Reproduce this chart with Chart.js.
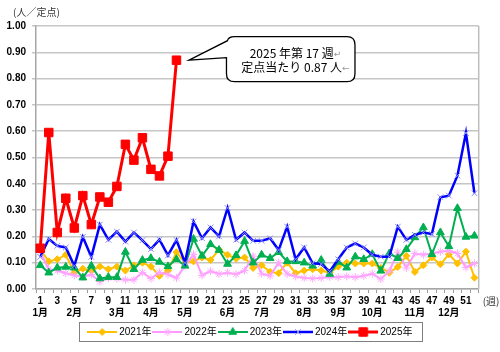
<!DOCTYPE html>
<html><head><meta charset="utf-8">
<script src="https://cdn.jsdelivr.net/npm/chart.js@4/dist/chart.umd.min.js"></script>
<style>html,body{margin:0;padding:0;background:#fff}</style>
</head><body>
<canvas id="c" width="500" height="352" style="width:500px;height:352px;display:block"></canvas>
<script>
const weeks = ['1','2','3','4','5','6','7','8','9','10','11','12','13','14','15','16','17','18','19','20','21','22','23','24','25','26','27','28','29','30','31','32','33','34','35','36','37','38','39','40','41','42','43','44','45','46','47','48','49','50','51','52'];
const monthWeeks = [1,5,10,14,18,23,27,32,36,40,45,49];
const monthNames = ['1月','2月','3月','4月','5月','6月','7月','8月','9月','10月','11月','12月'];
const yTicks = [0,0.1,0.2,0.3,0.4,0.5,0.6,0.7,0.8,0.9,1.0];

const s2021 = [0.15,0.105,0.113,0.13,0.062,0.077,0.068,0.086,0.075,0.085,0.07,0.09,0.1,0.085,0.05,0.07,0.14,0.10,0.105,0.12,0.11,0.15,0.13,0.115,0.12,0.08,0.09,0.065,0.06,0.10,0.06,0.07,0.075,0.07,0.062,0.085,0.1,0.097,0.097,0.097,0.08,0.062,0.084,0.126,0.065,0.09,0.12,0.094,0.132,0.097,0.142,0.043];
const s2022 = [0.14,0.075,0.07,0.06,0.052,0.047,0.055,0.028,0.042,0.039,0.035,0.035,0.063,0.04,0.063,0.055,0.042,0.088,0.132,0.052,0.068,0.057,0.062,0.056,0.07,0.125,0.058,0.05,0.1,0.057,0.048,0.042,0.04,0.042,0.046,0.045,0.048,0.045,0.05,0.058,0.038,0.068,0.14,0.08,0.135,0.13,0.135,0.142,0.145,0.135,0.082,0.097];
const s2023 = [0.09,0.062,0.081,0.084,0.081,0.043,0.088,0.04,0.045,0.045,0.141,0.075,0.11,0.117,0.103,0.086,0.113,0.088,0.19,0.126,0.17,0.148,0.095,0.128,0.182,0.1,0.13,0.117,0.14,0.105,0.105,0.1,0.088,0.11,0.057,0.103,0.081,0.123,0.113,0.132,0.069,0.135,0.117,0.151,0.196,0.234,0.132,0.215,0.162,0.307,0.198,0.202];
const s2024 = [0.122,0.19,0.164,0.158,0.088,0.198,0.122,0.245,0.187,0.218,0.18,0.215,0.185,0.152,0.188,0.128,0.186,0.10,0.257,0.193,0.234,0.2,0.308,0.187,0.215,0.183,0.183,0.193,0.148,0.237,0.113,0.158,0.098,0.095,0.067,0.113,0.158,0.173,0.158,0.13,0.123,0.123,0.237,0.187,0.206,0.215,0.209,0.349,0.355,0.431,0.593,0.364];
const s2025 = [0.155,0.595,0.215,0.345,0.232,0.355,0.245,0.35,0.33,0.39,0.55,0.49,0.575,0.455,0.43,0.505,0.87];

const monthLabels = weeks.map((w, i) => { const k = monthWeeks.indexOf(i + 1); return k >= 0 ? monthNames[k] : ''; });

const FONT = "'Liberation Sans', 'Noto Sans CJK JP', sans-serif";
const JFONT = "'Noto Sans CJK JP', 'Liberation Sans', sans-serif";

const datasets = [
  {label:'2021年', data:s2021, borderColor:'#FFC000', backgroundColor:'#FFC000', pointBackgroundColor:'#FFC000', pointBorderColor:'#FFC000', borderWidth:2, pointStyle:'rectRot', pointRadius:3.5, order:5},
  {label:'2022年', data:s2022, borderColor:'#FF99FF', backgroundColor:'#FF99FF', pointBackgroundColor:'#FFA8FF', pointBorderColor:'#FFA8FF', borderWidth:2, pointStyle:'star', pointRadius:4, order:4},
  {label:'2023年', data:s2023, borderColor:'#00B050', backgroundColor:'#00B050', pointBackgroundColor:'#00B050', pointBorderColor:'#00B050', borderWidth:2, pointStyle:'triangle', pointRadius:4.5, order:3},
  {label:'2024年', data:s2024, borderColor:'#0000FF', backgroundColor:'#0000FF', pointBackgroundColor:'#8C8CFF', pointBorderColor:'#8C8CFF', borderWidth:2.5, pointStyle:'crossRot', pointRadius:4, order:2},
  {label:'2025年', data:s2025, borderColor:'#FF0000', backgroundColor:'#FF0000', pointBackgroundColor:'#FF0000', pointBorderColor:'#FF0000', borderWidth:3, pointStyle:'rect', pointRadius:6, order:1}
];
datasets.forEach(d => { d.tension = 0; d.pointBorderWidth = 1; d.pointHoverRadius = d.pointRadius; d.fill = false; });

function legendImg(ds){
  const cv = document.createElement('canvas'); cv.width = 30; cv.height = 12;
  const g = cv.getContext('2d');
  g.strokeStyle = ds.borderColor; g.lineWidth = ds.borderWidth;
  g.beginPath(); g.moveTo(0, 6); g.lineTo(30, 6); g.stroke();
  g.fillStyle = ds.pointBackgroundColor; g.strokeStyle = ds.pointBorderColor; g.lineWidth = 1;
  Chart.helpers.drawPoint(g, {pointStyle: ds.pointStyle, radius: ds.pointRadius, borderWidth: 1, rotation: 0}, 15, 6);
  return cv;
}

const decor = {
  id: 'decor',
  afterLayout(chart){
    const lg = chart.legend;
    if (lg && lg.adjustHitBoxes && lg.legendHitBoxes){
      const tops = lg.legendHitBoxes.map(h => h.top);
      lg.left += 12; lg.right += 12; lg.adjustHitBoxes();
      lg.legendHitBoxes.forEach((h, i) => { h.top = tops[i]; });
    }
  },
  afterDraw(chart){
    const ctx = chart.ctx, ca = chart.chartArea;
    ctx.save();
    ctx.strokeStyle = '#bdbdbd'; ctx.lineWidth = 1.5;
    ctx.beginPath(); ctx.moveTo(ca.right, ca.top); ctx.lineTo(ca.right, ca.bottom); ctx.stroke();
    ctx.fillStyle = '#333'; ctx.font = '10px ' + JFONT; ctx.textBaseline = 'middle'; ctx.textAlign = 'left';
    ctx.fillText('(人／定点)', 13, 12);
    const xs = chart.scales.x;
    ctx.fillText('(週)', ca.right + 4, xs.top + 12);
    const lg = chart.legend;
    if (lg && lg.legendHitBoxes && lg.legendHitBoxes.length){
      let l = Infinity, r = -Infinity, t = Infinity, b = -Infinity;
      lg.legendHitBoxes.forEach(h => { l = Math.min(l, h.left); r = Math.max(r, h.left + h.width); t = Math.min(t, h.top); b = Math.max(b, h.top + h.height); });
      ctx.strokeStyle = '#7f7f7f'; ctx.lineWidth = 1;
      ctx.strokeRect(Math.round(l - 11) + 0.5, Math.round(t - 5) + 0.5, Math.round(r - l + 21), Math.round(b - t + 9));
    }
    const ys = chart.scales.y;
    const li = s2025.length - 1;
    const px = xs.getPixelForValue(li), py = ys.getPixelForValue(s2025[li]);
    const tipX = px + 12.5, tipY = py;
    const bx = px + 50, by = py - 23.5, bw = 128.5, bh = 45, rr = 8;
    ctx.beginPath();
    ctx.moveTo(bx + rr, by);
    ctx.lineTo(bx + bw - rr, by); ctx.quadraticCurveTo(bx + bw, by, bx + bw, by + rr);
    ctx.lineTo(bx + bw, by + bh - rr); ctx.quadraticCurveTo(bx + bw, by + bh, bx + bw - rr, by + bh);
    ctx.lineTo(bx + rr, by + bh); ctx.quadraticCurveTo(bx, by + bh, bx, by + bh - rr);
    ctx.lineTo(bx, by + 21); ctx.lineTo(tipX, tipY); ctx.lineTo(bx + 1, by + 4);
    ctx.quadraticCurveTo(bx + 2, by, bx + rr, by);
    ctx.closePath();
    ctx.fillStyle = '#fff'; ctx.fill();
    ctx.strokeStyle = '#000'; ctx.lineWidth = 1.3; ctx.stroke();
    const cx = bx + 69;
    const lines = [['2025 年第 17 週', '↵', by + 16.5], ['定点当たり 0.87 人', '←', by + 31]];
    lines.forEach(([txt, mk, yy]) => {
      ctx.font = '12px ' + JFONT; const w1 = ctx.measureText(txt).width;
      ctx.font = '9px DejaVu Sans'; const w2 = ctx.measureText(mk).width;
      let x0 = cx - (w1 + w2) / 2;
      ctx.textAlign = 'left'; ctx.textBaseline = 'middle';
      ctx.font = '12px ' + JFONT; ctx.fillStyle = '#000'; ctx.fillText(txt, x0, yy);
      ctx.font = '9px DejaVu Sans'; ctx.fillStyle = '#999'; ctx.fillText(mk, x0 + w1, yy + 1);
    });
    ctx.restore();
  }
};

new Chart(document.getElementById('c'), {
  type: 'line',
  data: { labels: weeks, datasets: datasets },
  options: {
    responsive: false, animation: false, devicePixelRatio: 1,
    layout: { padding: { top: 26, right: 21.3, left: 0, bottom: 5 } },
    plugins: {
      tooltip: { enabled: false },
      legend: {
        position: 'bottom',
        labels: {
          usePointStyle: true, pointStyleWidth: 24, boxHeight: 10, padding: 4,
          font: { family: FONT, size: 10 }, color: '#000',
          sort: (a, b) => a.datasetIndex - b.datasetIndex,
          generateLabels(chart){
            const items = Chart.defaults.plugins.legend.labels.generateLabels(chart);
            items.forEach(it => { it.pointStyle = legendImg(chart.data.datasets[it.datasetIndex]); it.fontColor = '#000'; });
            return items;
          }
        }
      }
    },
    scales: {
      x: {
        type: 'category', offset: true,
        grid: { display: true, drawOnChartArea: false, drawTicks: true, tickLength: 4, color: '#9a9a9a', offset: true },
        border: { display: true, color: '#a6a6a6', width: 1.5 },
        ticks: { autoSkip: false, maxRotation: 0, padding: 2, color: '#000', font: { family: FONT, size: 10, weight: 'bold' },
          callback(v, i){ return i % 2 === 0 ? this.getLabelForValue(v) : ''; } },
        afterFit(s){ s.height = 18; }
      },
      x2: {
        type: 'category', position: 'bottom', offset: true, labels: monthLabels,
        grid: { display: false, drawTicks: false }, border: { display: false },
        ticks: { autoSkip: false, maxRotation: 0, padding: 0, color: '#000', font: { family: FONT, size: 10, weight: 'bold' } },
        afterFit(s){ s.height = 16; }
      },
      y: {
        min: 0, max: 1,
        afterBuildTicks(s){ s.ticks = yTicks.map(v => ({ value: v })); },
        grid: { color: '#c6c6c6', lineWidth: 1.5, tickLength: 4, drawTicks: true },
        border: { display: true, color: '#a6a6a6', width: 1.5 },
        ticks: { padding: 6, color: '#000', font: { family: FONT, size: 10, weight: 'bold' }, callback(v){ return Number(v).toFixed(2); } },
        afterFit(s){ s.width = 36; }
      }
    }
  },
  plugins: [decor]
});
</script>
</body></html>
